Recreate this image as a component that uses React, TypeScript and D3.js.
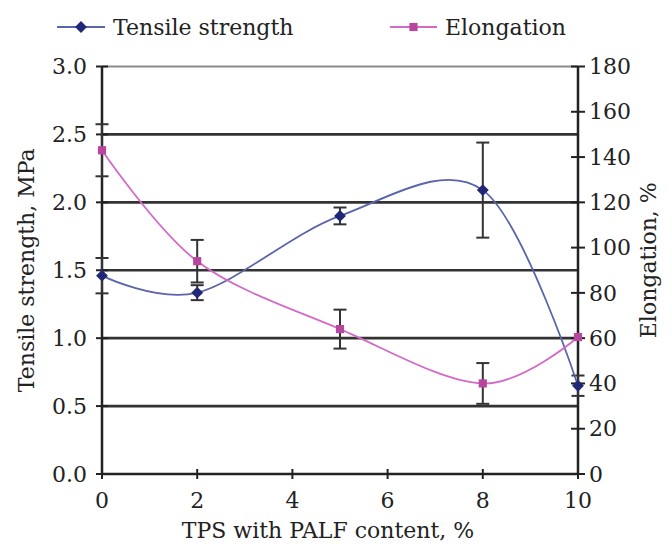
import React, { useEffect, useRef } from "react";
import * as d3 from "d3";

// PALF content (%) on the x axis
const content = [0, 2, 5, 8, 10];
// Tensile strength, MPa (left axis) and its error
const tensile = [1.46, 1.335, 1.9, 2.09, 0.65];
const tensileErr = [0.13, 0.055, 0.062, 0.35, 0.075];
// Elongation, % (right axis) and its error
const elongation = [143, 94, 64, 40, 60.5];
const elongationErr = [11.5, 9.4, 8.6, 9, 0];

const xTicks = [0, 2, 4, 6, 8, 10];
const leftTicks = [0, 0.5, 1, 1.5, 2, 2.5, 3];
const rightTicks = [0, 20, 40, 60, 80, 100, 120, 140, 160, 180];

export default function App() {
  const ref = useRef<SVGSVGElement>(null);

  useEffect(() => {
    const svgWidth = 672;
    const svgHeight = 551;
    const left = 102;
    const right = 578;
    const top = 66.5;
    const bottom = 474;
    const font = "'DejaVu Serif', serif";
    const fs = 22;
    const ink = "#222";

    const svg = d3.select(ref.current);
    svg.selectAll("*").remove();
    svg.attr("width", svgWidth).attr("height", svgHeight);

    const x = d3.scaleLinear().domain([0, 10]).range([left, right]);
    const yL = d3.scaleLinear().domain([0, 3]).range([bottom, top]);
    const yR = d3.scaleLinear().domain([0, 180]).range([bottom, top]);

    // horizontal gridlines
    svg
      .append("g")
      .selectAll("line")
      .data(leftTicks.filter((d) => d > 0 && d < 3))
      .enter()
      .append("line")
      .attr("x1", left)
      .attr("x2", right)
      .attr("y1", (d) => yL(d))
      .attr("y2", (d) => yL(d))
      .attr("stroke", "#333")
      .attr("stroke-width", 2.6);

    // top border
    svg
      .append("line")
      .attr("x1", left)
      .attr("x2", right)
      .attr("y1", top)
      .attr("y2", top)
      .attr("stroke", "#8a8a8a")
      .attr("stroke-width", 2);

    // left axis
    const gL = svg.append("g");
    gL.append("line")
      .attr("x1", left)
      .attr("x2", left)
      .attr("y1", top)
      .attr("y2", bottom)
      .attr("stroke", ink)
      .attr("stroke-width", 2.5);
    gL.selectAll("line.tick")
      .data(leftTicks)
      .enter()
      .append("line")
      .attr("class", "tick")
      .attr("x1", left - 6)
      .attr("x2", left + 6)
      .attr("y1", (d) => yL(d))
      .attr("y2", (d) => yL(d))
      .attr("stroke", ink)
      .attr("stroke-width", 2);
    gL.selectAll("text")
      .data(leftTicks)
      .enter()
      .append("text")
      .attr("x", left - 15)
      .attr("y", (d) => yL(d))
      .attr("dy", "0.35em")
      .attr("text-anchor", "end")
      .attr("font-family", font)
      .attr("font-size", fs)
      .attr("fill", ink)
      .text((d) => d3.format(".1f")(d));

    // right axis
    const gR = svg.append("g");
    gR.append("line")
      .attr("x1", right)
      .attr("x2", right)
      .attr("y1", top)
      .attr("y2", bottom)
      .attr("stroke", ink)
      .attr("stroke-width", 2.5);
    gR.selectAll("line.tick")
      .data(rightTicks)
      .enter()
      .append("line")
      .attr("class", "tick")
      .attr("x1", right - 7)
      .attr("x2", right + 7)
      .attr("y1", (d) => yR(d))
      .attr("y2", (d) => yR(d))
      .attr("stroke", ink)
      .attr("stroke-width", 2);
    gR.selectAll("text")
      .data(rightTicks)
      .enter()
      .append("text")
      .attr("x", right + 11)
      .attr("y", (d) => yR(d))
      .attr("dy", "0.35em")
      .attr("text-anchor", "start")
      .attr("font-family", font)
      .attr("font-size", fs)
      .attr("fill", ink)
      .text((d) => d);

    // bottom axis
    const gB = svg.append("g");
    gB.append("line")
      .attr("x1", left)
      .attr("x2", right)
      .attr("y1", bottom)
      .attr("y2", bottom)
      .attr("stroke", ink)
      .attr("stroke-width", 2.5);
    gB.selectAll("line.tick")
      .data(xTicks)
      .enter()
      .append("line")
      .attr("class", "tick")
      .attr("x1", (d) => x(d))
      .attr("x2", (d) => x(d))
      .attr("y1", bottom - 5)
      .attr("y2", bottom + 5)
      .attr("stroke", ink)
      .attr("stroke-width", 2);
    gB.selectAll("text")
      .data(xTicks)
      .enter()
      .append("text")
      .attr("x", (d) => x(d))
      .attr("y", bottom + 26)
      .attr("dy", "0.35em")
      .attr("text-anchor", "middle")
      .attr("font-family", font)
      .attr("font-size", fs)
      .attr("fill", ink)
      .text((d) => d);

    // axis titles
    svg
      .append("text")
      .attr("x", 328)
      .attr("y", 538)
      .attr("text-anchor", "middle")
      .attr("font-family", font)
      .attr("font-size", fs)
      .attr("fill", ink)
      .text("TPS with PALF content, %");
    svg
      .append("text")
      .attr("transform", `translate(34,${(top + bottom) / 2}) rotate(-90)`)
      .attr("text-anchor", "middle")
      .attr("font-family", font)
      .attr("font-size", fs)
      .attr("fill", ink)
      .text("Tensile strength, MPa");
    svg
      .append("text")
      .attr("transform", `translate(656,${(top + bottom) / 2 - 10}) rotate(-90)`)
      .attr("text-anchor", "middle")
      .attr("font-family", font)
      .attr("font-size", fs)
      .attr("fill", ink)
      .text("Elongation, %");

    const series = [
      {
        vals: tensile,
        err: tensileErr,
        y: yL,
        line: "#5a64aa",
        mark: "#1f2776",
        symbol: d3.symbolDiamond2,
        size: 90,
      },
      {
        vals: elongation,
        err: elongationErr,
        y: yR,
        line: "#d46ac6",
        mark: "#b8469f",
        symbol: d3.symbolSquare2,
        size: 85,
      },
    ];

    // error bars
    series.forEach((s) => {
      const g = svg.append("g");
      content.forEach((c, i) => {
        if (!s.err[i]) return;
        const cx = x(c);
        const y1 = s.y(s.vals[i] + s.err[i]);
        const y0 = s.y(s.vals[i] - s.err[i]);
        g.append("line")
          .attr("x1", cx)
          .attr("x2", cx)
          .attr("y1", y1)
          .attr("y2", y0)
          .attr("stroke", "#333")
          .attr("stroke-width", 2);
        [y0, y1].forEach((yy) =>
          g
            .append("line")
            .attr("x1", cx - 6.5)
            .attr("x2", cx + 6.5)
            .attr("y1", yy)
            .attr("y2", yy)
            .attr("stroke", "#333")
            .attr("stroke-width", 2)
        );
      });
    });

    // smoothed lines and markers
    series.forEach((s) => {
      const lineGen = d3
        .line<number>()
        .x((_, i) => x(content[i]))
        .y((d) => s.y(d))
        .curve(d3.curveCardinal.tension(0));
      svg
        .append("path")
        .attr("d", lineGen(s.vals))
        .attr("fill", "none")
        .attr("stroke", s.line)
        .attr("stroke-width", 1.8);
      svg
        .append("g")
        .selectAll("path")
        .data(s.vals)
        .enter()
        .append("path")
        .attr("transform", (d, i) => `translate(${x(content[i])},${s.y(d)})`)
        .attr("d", d3.symbol().type(s.symbol).size(s.size)())
        .attr("fill", s.mark)
        .attr("stroke", "none");
    });

    // legend
    const legendItems = [
      { label: "Tensile strength", x1: 57, x2: 105, s: series[0] },
      { label: "Elongation", x1: 390, x2: 437, s: series[1] },
    ];
    const ly = 27;
    legendItems.forEach((it) => {
      const g = svg.append("g");
      g.append("line")
        .attr("x1", it.x1)
        .attr("x2", it.x2)
        .attr("y1", ly)
        .attr("y2", ly)
        .attr("stroke", it.s.line)
        .attr("stroke-width", 2);
      g.append("path")
        .attr("transform", `translate(${(it.x1 + it.x2) / 2},${ly})`)
        .attr("d", d3.symbol().type(it.s.symbol).size(it.s.size)())
        .attr("fill", it.s.mark);
      g.append("text")
        .attr("x", it.x2 + 8)
        .attr("y", ly)
        .attr("dy", "0.35em")
        .attr("font-family", font)
        .attr("font-size", fs)
        .attr("fill", ink)
        .text(it.label);
    });
  }, []);

  return <svg ref={ref} style={{ position: "absolute", left: 0, top: 0 }} />;
}
